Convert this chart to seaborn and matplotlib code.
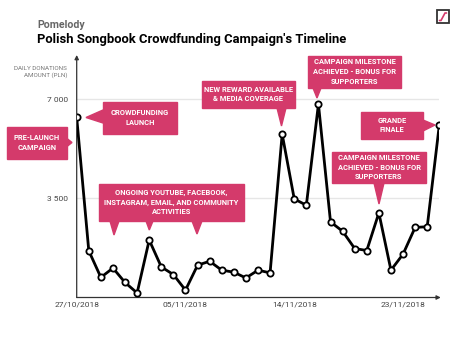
import matplotlib.pyplot as plt
import pandas as pd
import seaborn as sns
from matplotlib.patches import Polygon, Rectangle
from matplotlib.lines import Line2D

# data
dates = pd.date_range("2018-10-27", "2018-11-26", freq="D")
donations = [6360, 1650, 710, 1040, 530, 160, 2030, 1080, 810, 260,
             1140, 1280, 965, 895, 690, 965, 870, 5770, 3480, 3260,
             6830, 2670, 2340, 1730, 1660, 2990, 965, 1530, 2475, 2500,
             6090]
y_ticks = [3500, 7000]
y_tick_labels = ["3 500", "7 000"]
x_tick_dates = pd.to_datetime(["2018-10-27", "2018-11-05", "2018-11-14", "2018-11-23"])
x_tick_labels = ["27/10/2018", "05/11/2018", "14/11/2018", "23/11/2018"]

df = pd.DataFrame({"date": dates, "amount": donations})

W, H = 466, 350
PINK = "#d43a6b"

sns.set_style("white")
plt.rcParams["font.family"] = ["Roboto", "DejaVu Sans"]

fig = plt.figure(figsize=(W / 100, H / 100), dpi=100)
ax = fig.add_axes([76.7 / W, 1 - 297.5 / H, (439.3 - 76.7) / W, (297.5 - 55) / H])


def px(x, y):
    return (x / W, 1 - y / H)


sns.lineplot(data=df, x="date", y="amount", ax=ax, color="black", linewidth=2,
             marker="o", markersize=4.5, markerfacecolor="white",
             markeredgecolor="black", markeredgewidth=1.3, zorder=5)

ax.set_xlim(dates[0], dates[-1])
ax.set_ylim(0, 8565)
ax.set_yticks(y_ticks)
ax.set_yticklabels(y_tick_labels)
ax.set_xticks(x_tick_dates)
ax.set_xticklabels(x_tick_labels)
ax.tick_params(axis="y", length=0, pad=6, labelsize=6, labelcolor="#444")
ax.tick_params(axis="x", length=0, pad=3, labelsize=6, labelcolor="#444")
ax.set_xlabel("")
ax.set_ylabel("")
ax.grid(axis="y", color="#e6e6e6", linewidth=1)
ax.grid(axis="x", visible=False)
for s in ax.spines.values():
    s.set_visible(False)
ax.patch.set_alpha(0)

# axis arrows
arrow = dict(arrowstyle="-|>", color="#333", lw=0.9, mutation_scale=6, shrinkA=0, shrinkB=0)
ax.annotate("", xy=(0, 1), xytext=(0, 0), xycoords="axes fraction", arrowprops=arrow)
ax.annotate("", xy=(1.004, 0), xytext=(0, 0), xycoords="axes fraction", arrowprops=arrow)

# titles
fig.text(*px(37, 25), "Pomelody", fontsize=7.6, fontweight="bold", color="#666", va="center")
fig.text(*px(37, 40), "Polish Songbook Crowdfunding Campaign's Timeline", fontsize=9.4,
         fontweight="bold", color="black", va="center")
fig.text(*px(67, 72), "DAILY DONATIONS\nAMOUNT (PLN)", fontsize=4.5, color="#777",
         ha="right", va="center", linespacing=1.45)

# logo
fig.patches.append(Rectangle(px(437, 23), 12 / W, 13 / H, transform=fig.transFigure,
                             fill=False, edgecolor="#333", lw=1.3))
lx, ly = zip(*[px(439.5, 20.5), px(441, 20.5), px(445, 13), px(446.5, 13)])
fig.lines.append(Line2D(lx, ly, transform=fig.transFigure, color=PINK, lw=1.2))


def callout(text, box, triangles):
    x0, y0, x1, y1 = box
    fig.patches.append(Rectangle(px(x0, y1), (x1 - x0) / W, (y1 - y0) / H,
                                 transform=fig.transFigure, color=PINK, zorder=3))
    for tri in triangles:
        fig.patches.append(Polygon([px(*p) for p in tri], closed=True,
                                   transform=fig.transFigure, color=PINK, zorder=3))
    fig.text(*px((x0 + x1) / 2, (y0 + y1) / 2), text, color="white", fontsize=5.4,
             fontweight="bold", ha="center", va="center", linespacing=1.3, zorder=4)


callout("PRE-LAUNCH\nCAMPAIGN", (7, 127, 67, 159),
        [[(67, 138.5), (67, 146.5), (72, 142.5)]])
callout("CROWDFUNDING\nLAUNCH", (103, 102, 177, 134),
        [[(103, 110), (103, 123), (86, 117.5)]])
callout("ONGOING YOUTUBE, FACEBOOK,\nINSTAGRAM, EMAIL, AND COMMUNITY\nACTIVITIES",
        (99, 184, 244, 221),
        [[(110, 221), (119, 221), (114, 235)],
         [(146, 221), (153, 221), (149.3, 230)],
         [(192, 221), (202, 221), (197, 234)]])
callout("NEW REWARD AVAILABLE\n& MEDIA COVERAGE", (202, 81, 295, 108),
        [[(277, 108), (286, 108), (281.5, 126)]])
callout("CAMPAIGN MILESTONE\nACHIEVED - BONUS FOR\nSUPPORTERS", (308, 56, 401, 88),
        [[(313, 88), (321, 88), (317, 98)]])
callout("GRANDE\nFINALE", (361, 112, 423, 139),
        [[(423, 120), (423, 131), (435, 125)]])
callout("CAMPAIGN MILESTONE\nACHIEVED - BONUS FOR\nSUPPORTERS", (332, 152, 426, 183),
        [[(374, 183), (384, 183), (379, 204)]])

fig.savefig("out.png", dpi=100)
